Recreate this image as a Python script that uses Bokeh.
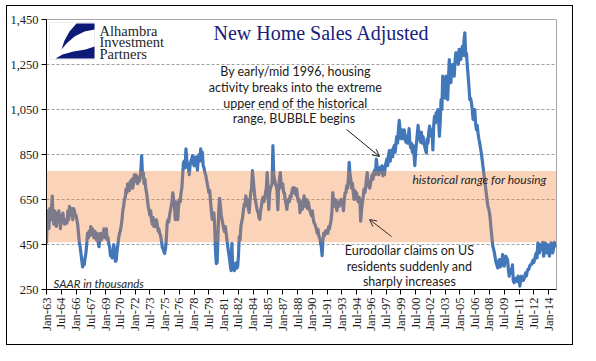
import math
from bokeh.plotting import figure
from bokeh.models import (Range1d, FixedTicker, NumeralTickFormatter, BoxAnnotation,
                          PolyAnnotation, Label, Arrow, OpenHead, ColumnDataSource)
from bokeh.embed import file_html
from bokeh.resources import INLINE

# ---- data: new home sales, SAAR thousands, monthly Jan-1963 .. Oct-2014 ----
sales_1963_69 = [
    455, 600, 590, 520, 610, 560, 600, 665, 570, 540, 600, 560,
    530, 590, 570, 600, 560, 520, 580, 560, 590, 550, 540, 560,
    560, 545, 600, 560, 620, 580, 610, 600, 560, 610, 600, 580,
    580, 560, 540, 500, 460, 440, 410, 380, 350, 365, 360, 390,
    410, 450, 500, 480, 510, 490, 530, 500, 520, 490, 480, 510,
    490, 470, 500, 460, 440, 480, 500, 470, 500, 490, 520, 480,
    500, 520, 470, 480, 450, 440, 400, 420, 390, 410, 450, 420,
]
sales_1970s = [
    375, 380, 420, 450, 480, 500, 510, 532, 560, 600, 620, 650,
    660, 696, 680, 720, 700, 690, 730, 710, 740, 700, 720, 760,
    730, 760, 740, 720, 750, 730, 740, 780, 845, 760, 770, 720,
    740, 700, 680, 650, 620, 600, 580, 600, 560, 540, 570, 530,
    550, 530, 560, 540, 510, 520, 500, 490, 470, 440, 430, 420,
    410, 430, 470, 540, 560, 550, 580, 600, 620, 640, 680, 650,
    620, 560, 640, 600, 560, 620, 650, 640, 680, 700, 760, 815,
    820, 790, 875, 830, 800, 790, 760, 800, 820, 830, 845, 810,
    800, 820, 840, 810, 780, 830, 850, 820, 875, 840, 860, 800,
    790, 770, 760, 740, 720, 700, 680, 690, 640, 600, 562, 580,
]
sales_1980s = [
    590, 540, 420, 365, 370, 480, 600, 655, 620, 580, 560, 540,
    520, 508, 530, 500, 470, 440, 413, 390, 360, 334, 455, 350,
    340, 334, 360, 368, 345, 351, 400, 485, 470, 532, 550, 570,
    600, 630, 620, 666, 640, 650, 610, 592, 640, 680, 700, 778,
    740, 696, 660, 640, 620, 600, 592, 570, 562, 600, 620, 651,
    660, 640, 650, 681, 700, 770, 700, 606, 680, 700, 710, 720,
    890, 760, 740, 720, 710, 690, 605, 700, 740, 770, 720, 700,
    720, 681, 680, 650, 630, 606, 640, 650, 640, 666, 660, 680,
    700, 703, 680, 700, 670, 696, 660, 640, 650, 592, 620, 640,
    607, 640, 666, 620, 632, 650, 610, 640, 620, 600, 590, 577,
]
sales_1990s = [
    600, 570, 548, 543, 530, 520, 500, 517, 487, 480, 460, 440,
    400, 470, 500, 490, 510, 500, 514, 500, 530, 520, 540, 560,
    600, 681, 640, 620, 650, 635, 600, 640, 620, 620, 640, 650,
    640, 635, 600, 650, 680, 680, 711, 700, 740, 815, 760, 740,
    700, 722, 680, 650, 690, 660, 680, 650, 640, 660, 650, 554,
    600, 633, 660, 695, 680, 700, 740, 770, 711, 725, 700, 720,
    740, 760, 740, 770, 780, 760, 830, 800, 780, 760, 793, 770,
    780, 800, 755, 780, 760, 800, 815, 830, 800, 850, 867, 820,
    850, 870, 840, 880, 890, 860, 900, 930, 900, 960, 1002, 960,
    920, 960, 935, 920, 960, 940, 905, 930, 900, 920, 965, 900,
]
sales_2000s = [
    880, 900, 860, 890, 850, 800, 860, 900, 940, 980, 930, 920,
    905, 950, 900, 930, 900, 887, 870, 857, 920, 900, 950, 976,
    950, 931, 960, 870, 980, 1020, 990, 1035, 1000, 1050, 1000, 931,
    1000, 1094, 1050, 1198, 1120, 1154, 1100, 1198, 1150, 1094, 1180, 1272,
    1200, 1169, 1230, 1250, 1220, 1198, 1260, 1302, 1280, 1302, 1250, 1317,
    1300, 1272, 1310, 1331, 1290, 1360, 1391, 1287, 1300, 1243, 1200, 1150,
    1094, 1100, 1080, 1050, 1006, 1030, 1050, 990, 961, 980, 946, 920,
    902, 880, 857, 830, 798, 770, 739, 710, 680, 650, 620, 610,
    591, 560, 517, 480, 443, 430, 413, 390, 369, 360, 346, 370,
    383, 350, 354, 370, 405, 390, 354, 380, 398, 390, 383, 340,
]
sales_2010s = [
    309, 330, 340, 324, 360, 290, 280, 294, 300, 290, 285, 310,
    300, 265, 290, 309, 300, 290, 295, 310, 324, 310, 330, 340,
    340, 354, 360, 361, 370, 380, 370, 383, 400, 413, 390, 457,
    440, 413, 450, 443, 430, 460, 398, 420, 457, 430, 413, 450,
    440, 398, 420, 457, 440, 413, 430, 460, 443, 450,
]
sales = sales_1963_69 + sales_1970s + sales_1980s + sales_1990s + sales_2000s + sales_2010s
month_index = list(range(len(sales)))

x_tick_labels = ["Jan-63", "Jul-64", "Jan-66", "Jul-67", "Jan-69", "Jul-70", "Jan-72",
                 "Jul-73", "Jan-75", "Jul-76", "Jan-78", "Jul-79", "Jan-81", "Jul-82",
                 "Jan-84", "Jul-85", "Jan-87", "Jul-88", "Jan-90", "Jul-91", "Jan-93",
                 "Jul-94", "Jan-96", "Jul-97", "Jan-99", "Jul-00", "Jan-02", "Jul-03",
                 "Jan-05", "Jul-06", "Jan-08", "Jul-09", "Jan-11", "Jul-12", "Jan-14"]
x_tick_pos = [i * 18 for i in range(len(x_tick_labels))]
y_ticks = [250, 450, 650, 850, 1050, 1250, 1450]
band_low, band_high = 460, 777   # historical range for housing

# ---- layout helpers (page px -> data coords), for decorations only ----
X_MAX = 621.7
def mx(px):
    return (px - 47) / 510 * X_MAX
def vy(py):
    return 1450 - (py - 20) / 270 * 1200

p = figure(frame_width=510, frame_height=270, x_range=Range1d(0, X_MAX),
           y_range=Range1d(250, 1450), output_backend="svg", toolbar_location=None,
           min_border_left=38, min_border_top=13, min_border_right=16, min_border_bottom=55)
p.styles = {"border": "1px solid #000000", "margin-left": "6px", "margin-top": "5px"}
p.background_fill_color = "white"
p.border_fill_color = "white"
p.outline_line_color = "#A6A6A6"
p.outline_line_width = 1

SERIF = "Liberation Serif"
SANS = "Lato"

p.yaxis.ticker = FixedTicker(ticks=y_ticks)
p.yaxis.formatter = NumeralTickFormatter(format="0,0")
p.xaxis.ticker = FixedTicker(ticks=x_tick_pos)
p.xaxis.major_label_overrides = {pos: lab for pos, lab in zip(x_tick_pos, x_tick_labels)}
p.xaxis.major_label_orientation = math.pi / 2
for ax in (p.xaxis[0], p.yaxis[0]):
    ax.axis_line_color = "#000000"
    ax.axis_line_width = 1
    ax.major_tick_line_color = "#000000"
    ax.major_tick_out = 5
    ax.major_tick_in = 0
    ax.minor_tick_out = 0
    ax.minor_tick_in = 0
    ax.major_label_text_font = SERIF
    ax.major_label_text_font_size = "12.5px"
    ax.major_label_text_color = "#1a1a1a"
    ax.major_label_standoff = 3

p.xgrid.visible = False
p.ygrid.ticker = FixedTicker(ticks=[450, 650, 850, 1050, 1250])
p.ygrid.grid_line_color = "#A0A0A0"
p.ygrid.grid_line_dash = "3 2"
p.ygrid.grid_line_width = 1

src = ColumnDataSource(dict(m=month_index, sales=sales))
p.line(x="m", y="sales", source=src, line_color="#4278BA", line_width=3.2,
       line_join="round")

# translucent historical range band over the line
p.add_layout(BoxAnnotation(bottom=band_low, top=band_high, fill_color="#F07E32",
                           fill_alpha=0.34, line_color=None))

# logo
p.add_layout(BoxAnnotation(left=mx(50), right=mx(95), top=vy(23), bottom=vy(60),
                           fill_color="white", fill_alpha=1, line_color="#BFBFBF",
                           line_width=1))
upper = [(77, 24), (95, 24), (95, 30), (85, 32), (75, 37), (67, 44), (62, 50), (65, 41), (70, 32)]
lower = [(56, 59), (95, 59), (95, 47), (86, 50), (74, 52), (63, 55)]
for poly in (upper, lower):
    p.add_layout(PolyAnnotation(xs=[mx(a) for a, b in poly], ys=[vy(b) for a, b in poly],
                                fill_color="#0E1A78", fill_alpha=1, line_color=None))
for txt, py in (("Alhambra", 31), ("Investment", 42.5), ("Partners", 54)):
    p.add_layout(Label(x=mx(100), y=vy(py), text=txt, text_font=SERIF,
                       text_font_size="14.5px", text_color="#262626",
                       text_baseline="middle", text_align="left"))

# title
p.add_layout(Label(x=mx(322), y=vy(33.5), text="New Home Sales Adjusted", text_font=SERIF,
                   text_font_size="20px", text_color="#17207A", text_align="center",
                   text_baseline="middle"))

# annotation: bubble
for txt, py in (("By early/mid 1996, housing", 72), ("activity breaks into the extreme", 88),
                ("upper end of the historical", 103.5), ("range, BUBBLE  begins", 119)):
    p.add_layout(Label(x=mx(296), y=vy(py), text=txt, text_font=SANS,
                       text_font_size="12.5px", text_color="#1a1a1a",
                       text_align="center", text_baseline="middle"))
p.add_layout(Arrow(x_start=mx(347), y_start=vy(130), x_end=mx(380), y_end=vy(157),
                   line_color="#1a1a1a", line_width=1,
                   end=OpenHead(size=7, line_color="#1a1a1a", line_width=1)))

# annotation: range
p.add_layout(Label(x=mx(413), y=vy(180), text="historical range for housing", text_font=SANS,
                   text_font_size="12px", text_font_style="italic", text_color="#262626",
                   text_align="left", text_baseline="middle"))

# annotation: eurodollar
for txt, py in (("Eurodollar claims on US", 251), ("residents suddenly and", 266.5),
                ("sharply increases", 282)):
    p.add_layout(Label(x=mx(410), y=vy(py), text=txt, text_font=SANS,
                       text_font_size="12.5px", text_color="#1a1a1a",
                       text_align="center", text_baseline="middle"))
p.add_layout(Arrow(x_start=mx(392), y_start=vy(237), x_end=mx(370), y_end=vy(220),
                   line_color="#3a3030", line_width=1,
                   end=OpenHead(size=7, line_color="#3a3030", line_width=1)))

# units note
p.add_layout(Label(x=mx(54), y=vy(283.5), text="SAAR in thousands", text_font=SANS,
                   text_font_size="11.5px", text_font_style="italic", text_color="#262626",
                   text_align="left", text_baseline="middle"))

open("out.html", "w").write(file_html(p, INLINE))
